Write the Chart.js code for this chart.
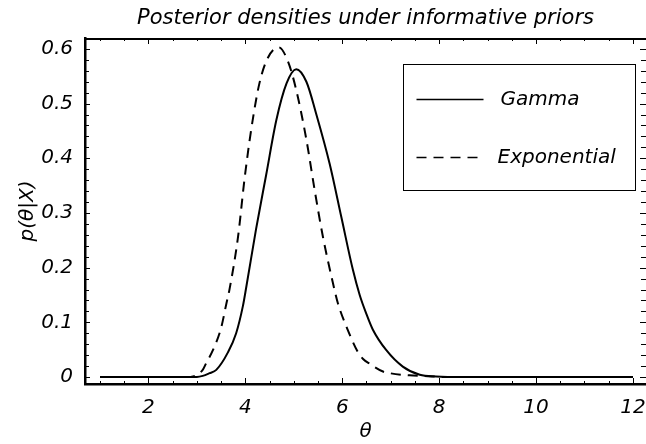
<!DOCTYPE html>
<html><head><meta charset="utf-8">
<script src="https://cdn.jsdelivr.net/npm/chart.js@4.4.1/dist/chart.umd.min.js"></script>
<style>html,body{margin:0;padding:0;background:#fff;}canvas{display:block;}</style>
</head><body>
<canvas id="c" width="646" height="444"></canvas>
<script>
const thetaGamma = [1, 2, 3, 3.12, 3.26, 3.40, 3.64, 3.81, 3.95, 4.02, 4.22, 4.43, 4.64, 4.85, 5.05, 5.26, 5.46, 5.74, 5.98, 6.22, 6.36, 6.50, 6.63, 6.91, 7.25, 7.60, 7.94, 8.5, 12];
const densityGamma = [0, 0, 0, 0.002, 0.007, 0.013, 0.045, 0.08, 0.13, 0.165, 0.27, 0.37, 0.47, 0.537, 0.563, 0.54, 0.482, 0.39, 0.293, 0.196, 0.15, 0.115, 0.087, 0.049, 0.019, 0.004, 0.001, 0, 0];
const thetaExponential = [1, 2, 2.8, 2.92, 3.12, 3.19, 3.33, 3.50, 3.61, 3.67, 3.85, 3.98, 4.12, 4.29, 4.46, 4.69, 4.88, 5.05, 5.26, 5.43, 5.60, 5.81, 5.91, 6.10, 6.32, 6.43, 6.57, 6.84, 6.98, 7.39, 7.7, 8.1, 12];
const densityExponential = [0, 0, 0, 0.001, 0.013, 0.025, 0.049, 0.09, 0.135, 0.159, 0.257, 0.36, 0.452, 0.537, 0.583, 0.603, 0.577, 0.525, 0.434, 0.342, 0.257, 0.171, 0.135, 0.089, 0.046, 0.033, 0.024, 0.01, 0.007, 0.003, 0.002, 0, 0];
const seriesNames = ['Gamma', 'Exponential'];
const xMajorTicks = [2, 4, 6, 8, 10, 12];
const xTickLabels = ['2', '4', '6', '8', '10', '12'];
const yMajorTicks = [0, 0.1, 0.2, 0.3, 0.4, 0.5, 0.6];
const yTickLabels = ['0', '0.1', '0.2', '0.3', '0.4', '0.5', '0.6'];
const titleText = 'Posterior densities under informative priors';
const xAxisTitle = 'θ';
const yAxisTitle = 'p(θ|X)';

const FONT = 'DejaVu Sans';
const ink = '#000';

function near(list, v) { return list.findIndex(m => Math.abs(m - v) < 1e-9); }

const frameTicks = {
  id: 'frameTicks',
  afterDatasetsDraw(chart) {
    const {ctx, chartArea: a, scales} = chart;
    ctx.save();
    ctx.strokeStyle = ink;
    ctx.lineWidth = 2;
    ctx.beginPath();
    ctx.moveTo(a.left, a.top + 1);
    ctx.lineTo(a.right, a.top + 1);
    ctx.stroke();
    ctx.lineWidth = 1;
    ctx.beginPath();
    scales.x.ticks.forEach(t => {
      const px = Math.round(scales.x.getPixelForValue(t.value)) + 0.5;
      const len = near(xMajorTicks, t.value) >= 0 ? 6 : 3;
      ctx.moveTo(px, a.bottom); ctx.lineTo(px, a.bottom - len);
      ctx.moveTo(px, a.top); ctx.lineTo(px, a.top + len);
    });
    scales.y.ticks.forEach(t => {
      const py = Math.round(scales.y.getPixelForValue(t.value)) + 0.5;
      const len = near(yMajorTicks, t.value) >= 0 ? 5 : 4;
      ctx.moveTo(a.left, py); ctx.lineTo(a.left + len, py);
      ctx.moveTo(a.right, py); ctx.lineTo(a.right - len - 1, py);
    });
    ctx.stroke();
    ctx.restore();
  },
  afterDraw(chart) {
    const {ctx, chartArea: a} = chart;
    const w = a.right - a.left, h = a.bottom - a.top;
    const bx0 = Math.round(a.left + 0.566 * w) + 0.5, bx1 = Math.round(a.left + 0.980 * w) + 0.5;
    const by0 = Math.round(a.top + 0.074 * h) + 0.5, by1 = Math.round(a.top + 0.438 * h) + 0.5;
    ctx.save();
    ctx.strokeStyle = ink; ctx.lineWidth = 1;
    ctx.strokeRect(bx0, by0, bx1 - bx0, by1 - by0);
    const rows = [a.top + 0.176 * h, a.top + 0.344 * h];
    chart.data.datasets.forEach((ds, i) => {
      const y = Math.round(rows[i]) + 0.5;
      ctx.beginPath();
      ctx.lineWidth = 1.6;
      ctx.setLineDash(ds.borderDash || []);
      ctx.moveTo(bx0 + 13, y); ctx.lineTo(bx0 + 80, y);
      ctx.stroke();
      ctx.setLineDash([]);
      ctx.fillStyle = ink;
      ctx.font = 'italic 20px "' + FONT + '"';
      ctx.textBaseline = 'middle';
      ctx.textAlign = 'left';
      ctx.fillText(ds.label, bx0 + (i === 0 ? 97 : 94), y);
    });
    ctx.restore();
  }
};

new Chart(document.getElementById('c'), {
  type: 'line',
  data: {
    datasets: [
      {
        label: seriesNames[0],
        data: thetaGamma.map((t, i) => ({x: t, y: densityGamma[i]})),
        borderColor: ink, borderWidth: 2, pointRadius: 0, fill: false,
        cubicInterpolationMode: 'monotone'
      },
      {
        label: seriesNames[1],
        data: thetaExponential.map((t, i) => ({x: t, y: densityExponential[i]})),
        borderColor: ink, borderWidth: 2, pointRadius: 0, fill: false,
        borderDash: [10, 7],
        cubicInterpolationMode: 'monotone'
      }
    ]
  },
  options: {
    responsive: false,
    animation: false,
    devicePixelRatio: 1,
    layout: {padding: 0},
    plugins: {
      legend: {display: false},
      tooltip: {enabled: false},
      title: {
        display: true, text: titleText, fullSize: false, color: ink,
        font: {family: FONT, size: 21, style: 'italic', weight: 'normal'},
        padding: {top: 6, bottom: 6.8}
      }
    },
    scales: {
      x: {
        type: 'linear', min: 0.69, max: 12.27,
        afterBuildTicks: s => { const arr = []; for (let k = 2; k <= 24; k++) arr.push({value: k / 2}); s.ticks = arr; },
        afterFit: s => { s.height = 60; s.paddingLeft = 0; s.paddingRight = 0; },
        grid: {display: false, drawTicks: false},
        border: {display: true, color: ink, width: 2.5},
        ticks: {
          autoSkip: false, maxRotation: 0, minRotation: 0, padding: 12, color: ink,
          font: {family: FONT, size: 20, style: 'italic'},
          callback: v => { const i = near(xMajorTicks, v); return i >= 0 ? xTickLabels[i] : ''; }
        },
        title: {display: true, text: xAxisTitle, color: ink, font: {family: FONT, size: 20, style: 'italic'}, padding: {top: 0, bottom: 0}}
      },
      y: {
        type: 'linear', min: -0.0128, max: 0.62,
        afterBuildTicks: s => { const arr = []; for (let k = 0; k <= 30; k++) arr.push({value: k / 50}); s.ticks = arr; },
        afterFit: s => { s.width = 85; s.paddingTop = 0; s.paddingBottom = 0; },
        grid: {display: false, drawTicks: false},
        border: {display: true, color: ink, width: 2.5},
        ticks: {
          autoSkip: false, padding: 12, color: ink,
          font: {family: FONT, size: 20, style: 'italic'},
          callback: v => { const i = near(yMajorTicks, v); return i >= 0 ? yTickLabels[i] : ''; }
        },
        title: {display: true, text: yAxisTitle, color: ink, font: {family: FONT, size: 20, style: 'italic'}, padding: {top: 16, bottom: 0}}
      }
    }
  },
  plugins: [frameTicks]
});
</script>
</body></html>
